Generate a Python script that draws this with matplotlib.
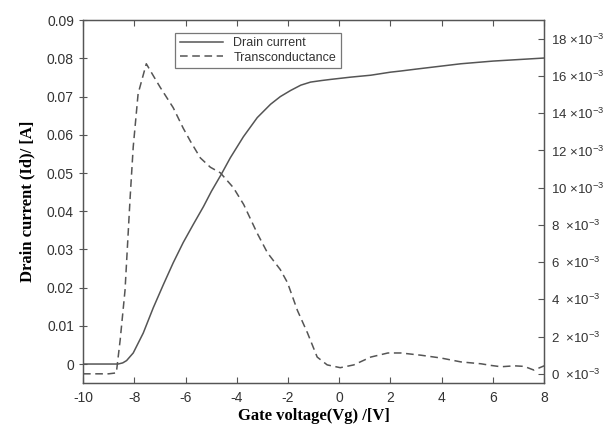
import matplotlib
matplotlib.use("Agg")
import matplotlib.pyplot as plt
from matplotlib.ticker import FuncFormatter

# drain current (left axis, A)
vg_id = [-10, -9, -8.63, -8.45, -8.3, -8.04, -7.65, -7.26, -6.87, -6.48, -6.09, -5.70, -5.30,
         -4.99, -4.6, -4.25, -3.74, -3.2, -2.68, -2.3, -1.90, -1.5, -1.12, -0.7, -0.34, 0.45, 1.23,
         2.0, 2.4, 3.0, 4.0, 4.75, 6.0, 7.0, 8.0]
i_d = [0, 0, 0, 0.0003, 0.0009, 0.0029, 0.0081, 0.0147, 0.0207, 0.0265, 0.0318, 0.0365, 0.0412,
       0.0452, 0.0497, 0.0540, 0.0595, 0.0645, 0.0680, 0.0700, 0.0716, 0.0730, 0.0738, 0.0742,
       0.0745, 0.0751, 0.0756, 0.0764, 0.0767, 0.0772, 0.0780, 0.0786, 0.0793, 0.0797, 0.0801]

# transconductance (right axis, x1e-3 S)
vg_gm = [-10, -9, -8.7, -8.55, -8.36, -8.16, -8.04, -7.85, -7.53, -7.25, -6.99, -6.48,
         -6.09, -5.81, -5.42, -5.03, -4.64, -4.13, -3.73, -3.2, -2.8, -2.3, -2.02, -1.63,
         -1.24, -0.86, -0.47, 0.04, 0.57, 1.23, 1.9, 2.41, 3.19, 3.97, 4.75, 5.53, 5.93,
         6.32, 6.83, 7.22, 7.6, 8.0]
gm = [0, 0, 0.05, 1.82, 4.5, 9.5, 12.2, 15.05, 16.66, 16.0, 15.4, 14.3,
      13.2, 12.5, 11.6, 11.1, 10.8, 10.0, 9.1, 7.55, 6.5, 5.6, 4.9, 3.4,
      2.2, 0.9, 0.48, 0.33, 0.48, 0.9, 1.12, 1.12, 1.0, 0.85, 0.64, 0.54, 0.45,
      0.38, 0.43, 0.4, 0.2, 0.43]

xticks = list(range(-10, 9, 2))
lticks = [0, 0.01, 0.02, 0.03, 0.04, 0.05, 0.06, 0.07, 0.08, 0.09]
rticks = list(range(0, 19, 2))

plt.rcParams['font.family'] = ['Liberation Sans', 'DejaVu Sans']
plt.rcParams['mathtext.fontset'] = 'custom'
plt.rcParams['mathtext.rm'] = 'Liberation Sans'
plt.rcParams['axes.unicode_minus'] = False

grey = '#555555'
txt = '#333333'

fig = plt.figure(figsize=(6.06, 4.30), dpi=100)
ax = fig.add_axes([0.137, 0.109, 0.761, 0.844])
ax2 = ax.twinx()

l1, = ax.plot(vg_id, i_d, color=grey, lw=1.1, label='Drain current')
l2, = ax2.plot(vg_gm, gm, color=grey, lw=1.1, ls=(0, (5, 3)), label='Transconductance')

ax.set_xlim(-10, 8)
ax.set_ylim(-0.005, 0.09)
ax2.set_ylim(-0.5, 19)
ax.set_xticks(xticks)
ax.set_yticks(lticks)
ax.set_yticklabels(['0'] + [f'{v:.2f}' for v in lticks[1:]])
ax2.set_yticks(rticks)


def rfmt(v, p):
    n = f'{v:g}'
    if len(n) == 1:
        n = n + '  '
    else:
        n = n + ' '
    return n + r'$\times\mathregular{10^{-3}}$'


ax2.yaxis.set_major_formatter(FuncFormatter(rfmt))

for a in (ax, ax2):
    for s in a.spines.values():
        s.set_color(grey)
        s.set_linewidth(0.9)
ax.tick_params(axis='x', direction='in', top=True, length=4, color=grey,
               labelsize=10, labelcolor=txt, pad=6)
ax.tick_params(axis='y', direction='inout', length=6, color=grey,
               labelsize=10, labelcolor=txt)
ax2.tick_params(axis='y', direction='in', length=4, color=grey,
                labelsize=9.5, labelcolor=txt, pad=5)

ax.set_xlabel('Gate voltage(Vg) /[V]', family='Liberation Serif', fontweight='bold',
              fontsize=12, color='black', labelpad=2)
ax.set_ylabel('Drain current (Id)/ [A]', family='Liberation Serif', fontweight='bold',
              fontsize=12, color='black', labelpad=8)

leg = ax.legend(handles=[l1, l2], loc='upper left', bbox_to_anchor=(0.2, 0.965),
                fontsize=9, frameon=True, fancybox=False, handlelength=3.5,
                borderpad=0.35, labelspacing=0.2, borderaxespad=0)
leg.get_frame().set_edgecolor(grey)
leg.get_frame().set_linewidth(0.9)
for t in leg.get_texts():
    t.set_color(txt)

fig.savefig('out.png', dpi=100)
